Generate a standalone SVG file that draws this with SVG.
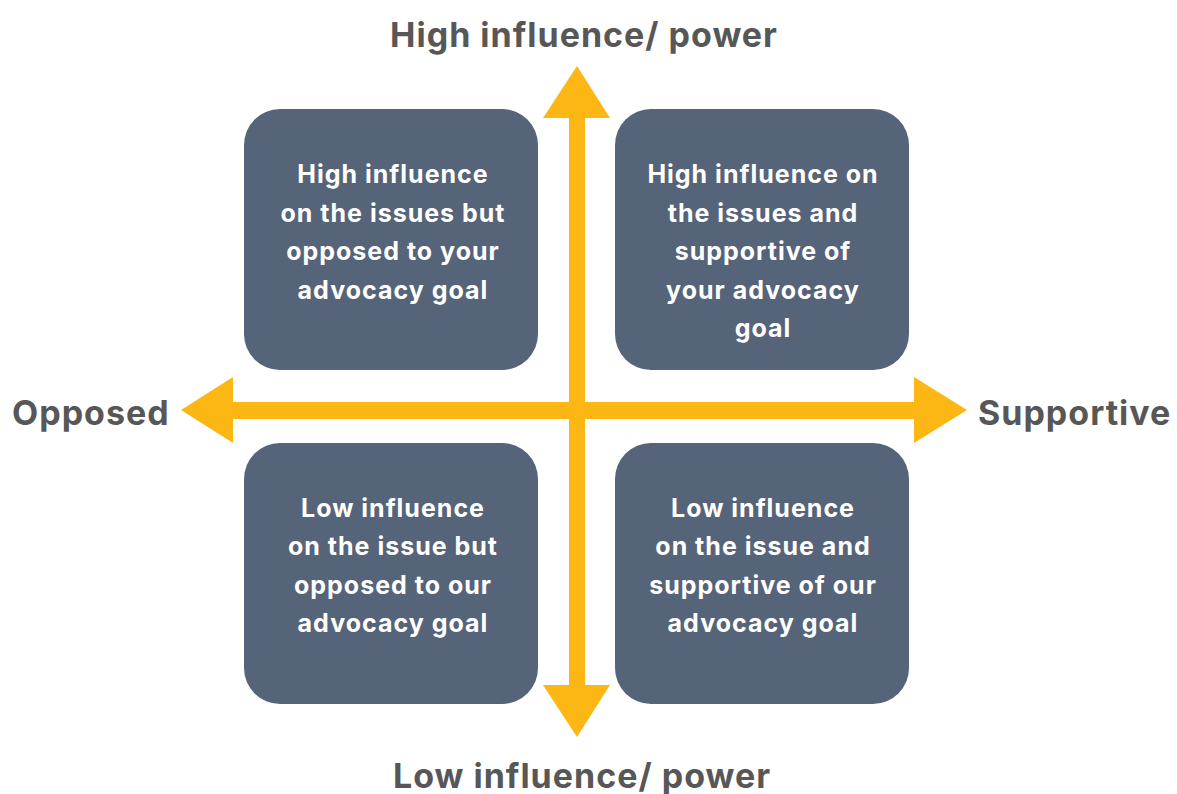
<svg xmlns="http://www.w3.org/2000/svg" width="1177" height="794" viewBox="0 0 1177 794">
<style>
.box{fill:#566479}
.bt{font-family:Inter,"Open Sans",sans-serif;font-weight:700;font-size:25px;letter-spacing:1px;fill:#ffffff;text-anchor:middle}
.ax{font-family:Inter,"Open Sans",sans-serif;font-weight:700;font-size:34px;letter-spacing:1px;fill:#575757}
.ar{fill:#FDB714}
</style>
<rect width="1177" height="794" fill="#ffffff"/>
<g id="box-tl"><rect class="box" x="244" y="109" width="294" height="261" rx="36"/>
<text class="bt"><tspan x="393" y="183">High influence</tspan><tspan x="393" y="222">on the issues but</tspan><tspan x="393" y="260">opposed to your</tspan><tspan x="393" y="299">advocacy goal</tspan></text></g>
<g id="box-tr"><rect class="box" x="615" y="109" width="294" height="261" rx="36"/>
<text class="bt"><tspan x="763" y="183">High influence on</tspan><tspan x="763" y="222">the issues and</tspan><tspan x="763" y="260">supportive of</tspan><tspan x="763" y="299">your advocacy</tspan><tspan x="763" y="337">goal</tspan></text></g>
<g id="box-bl"><rect class="box" x="244" y="443" width="294" height="261" rx="36"/>
<text class="bt"><tspan x="393" y="517">Low influence</tspan><tspan x="393" y="555">on the issue but</tspan><tspan x="393" y="594">opposed to our</tspan><tspan x="393" y="632">advocacy goal</tspan></text></g>
<g id="box-br"><rect class="box" x="615" y="443" width="294" height="261" rx="36"/>
<text class="bt"><tspan x="763" y="517">Low influence</tspan><tspan x="763" y="555">on the issue and</tspan><tspan x="763" y="594">supportive of our</tspan><tspan x="763" y="632">advocacy goal</tspan></text></g>
<g id="connectors">
<rect class="ar" x="569" y="110" width="16" height="580"/>
<rect class="ar" x="225" y="402" width="695" height="17"/>
<polygon class="ar" points="577,66 610,118 543,118"/>
<polygon class="ar" points="577,737 610,685 543,685"/>
<polygon class="ar" points="181,410 233,377 233,443"/>
<polygon class="ar" points="967,410 914,377 914,443"/>
</g>
<g id="labels">
<text class="ax" x="584" y="47" text-anchor="middle">High influence/ power</text>
<text class="ax" x="582" y="788" text-anchor="middle">Low influence/ power</text>
<text class="ax" x="12" y="425">Opposed</text>
<text class="ax" x="978" y="425">Supportive</text>
</g>
</svg>
